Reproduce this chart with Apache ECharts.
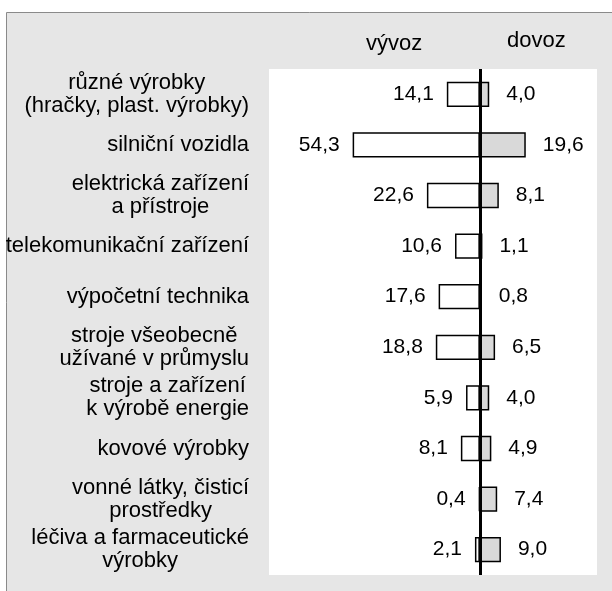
<!DOCTYPE html>
<html>
<head>
<meta charset="utf-8">
<script src="https://cdn.jsdelivr.net/npm/echarts@6/dist/echarts.min.js"></script>
<style>
  html, body { margin: 0; padding: 0; background: #fff; }
  #chart { width: 612px; height: 591px; }
</style>
</head>
<body>
<div id="chart"></div>
<script>
// komodity (shora dolů)
const categories = [
  'různé výrobky\n(hračky, plast. výrobky)',
  'silniční vozidla',
  'elektrická zařízení\na přístroje',
  'telekomunikační zařízení',
  'výpočetní technika',
  'stroje všeobecně\nužívané v průmyslu',
  'stroje a zařízení\nk výrobě energie',
  'kovové výrobky',
  'vonné látky, čisticí\nprostředky',
  'léčiva a farmaceutické\nvýrobky'
];
const vyvoz = [14.1, 54.3, 22.6, 10.6, 17.6, 18.8, 5.9, 8.1, 0.4, 2.1];
const dovoz = [4.0, 19.6, 8.1, 1.1, 0.8, 6.5, 4.0, 4.9, 7.4, 9.0];
const headers = ['vývoz', 'dovoz'];

const font = '"Liberation Sans", Arial, sans-serif';
const fmt = function (p) {
  return Math.abs(p.value).toFixed(1).replace('.', ',');
};

const chart = echarts.init(document.getElementById('chart'));
chart.setOption({
  backgroundColor: '#fff',
  animation: false,
  graphic: [
    {
      type: 'rect', z: -10,
      shape: { x: 6.5, y: 12.5, width: 640, height: 620 },
      style: { fill: '#e6e6e6', stroke: '#8a8a8a', lineWidth: 1 }
    },
    {
      type: 'text', left: 366, top: 33,
      style: { text: headers[0], font: '22px ' + font, fill: '#000' }
    },
    {
      type: 'text', left: 507, top: 30,
      style: { text: headers[1], font: '22px ' + font, fill: '#000' }
    }
  ],
  grid: {
    left: 269, right: 15, top: 69, bottom: 16,
    show: true, backgroundColor: '#fff', borderWidth: 0
  },
  xAxis: {
    type: 'value', min: -90, max: 50, show: false
  },
  yAxis: {
    type: 'category',
    data: categories,
    inverse: true,
    axisLine: { show: false },
    axisTick: { show: false },
    axisLabel: {
      align: 'right',
      margin: 20,
      formatter: function (v) { return '{c|' + v.split('\n').join('}\n{c|') + '}'; },
      rich: {
        c: { align: 'center', fontSize: 22, fontFamily: font, color: '#000', lineHeight: 23 }
      }
    }
  },
  series: [
    {
      name: headers[0],
      type: 'bar',
      stack: 'obchod',
      barWidth: '50%',
      data: vyvoz.map(function (v) { return -v; }),
      itemStyle: { color: '#fff', borderColor: '#000', borderWidth: 1.5 },
      label: {
        show: true, position: 'left', distance: 13,
        formatter: fmt, fontSize: 21, fontFamily: font, color: '#000'
      },
      markLine: {
        silent: true, symbol: 'none',
        label: { show: false },
        lineStyle: { color: '#000', width: 3, type: 'solid' },
        data: [{ xAxis: 0 }]
      }
    },
    {
      name: headers[1],
      type: 'bar',
      stack: 'obchod',
      barWidth: '50%',
      data: dovoz,
      itemStyle: { color: '#d9d9d9', borderColor: '#000', borderWidth: 1.5 },
      label: {
        show: true, position: 'right', distance: 17,
        formatter: fmt, fontSize: 21, fontFamily: font, color: '#000'
      }
    }
  ]
});
</script>
</body>
</html>
